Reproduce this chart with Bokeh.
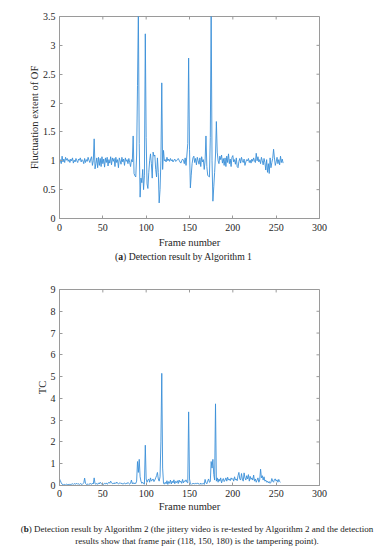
from bokeh.plotting import figure
from bokeh.models import Range1d, Label, Div, FixedTicker, CustomJSTickFormatter
from bokeh.layouts import column
from bokeh.embed import file_html
from bokeh.resources import INLINE

# ---- data: panel (a) fluctuation extent of optical flow, frames 0..258 ----
of_values = [
    0.96, 1.02, 0.95, 1.08, 0.98, 1.03, 0.97, 1.06, 1.01, 1.04,
    0.99, 1.02, 0.97, 1.03, 1.00, 1.05, 0.96, 1.01, 0.98, 1.04,
    1.00, 0.97, 1.03, 1.01, 1.05, 0.98, 1.02, 1.00, 0.95, 1.04,
    0.97, 1.02, 0.99, 1.06, 1.01, 0.97, 1.03, 1.07, 0.92, 1.00,
    1.38, 0.86, 0.95, 1.05, 0.88, 1.06, 0.92, 1.04, 0.90, 1.07,
    0.95, 1.03, 0.89, 1.05, 0.97, 1.06, 0.91, 1.02, 0.96, 1.07,
    0.93, 1.05, 0.99, 1.04, 0.90, 1.06, 0.97, 1.02, 0.88, 1.05,
    1.00, 0.94, 1.06, 0.98, 1.03, 0.92, 1.05, 0.99, 1.02, 0.95,
    1.04, 0.97, 0.90, 1.02, 0.98, 1.43, 0.78, 0.74, 0.72, 1.10,
    2.30, 3.60, 1.30, 0.37, 0.70, 0.62, 0.85, 0.50, 0.75, 3.20,
    1.40, 0.60, 0.52, 0.80, 1.00, 1.12, 0.95, 0.70, 1.15, 1.08,
    1.10, 0.85, 0.72, 1.05, 0.80, 0.27, 0.50, 1.00, 2.35, 0.85,
    1.18, 1.00, 1.02, 0.98, 1.06, 1.00, 1.03, 0.99, 1.04, 1.00,
    1.02, 0.98, 1.01, 1.03, 0.99, 1.00, 1.02, 1.04, 1.01, 0.98,
    0.96, 1.00, 1.03, 1.01, 0.95, 1.05, 0.92, 1.10, 1.30, 2.78,
    1.20, 0.53, 0.75, 0.95, 1.05, 1.08, 0.97, 1.04, 0.93, 1.06,
    1.00, 0.94, 1.05, 0.90, 1.07, 0.98, 1.02, 0.85, 1.00, 1.43,
    0.90, 0.75, 0.73, 0.72, 1.40, 3.60, 1.00, 0.30, 0.55, 0.80,
    1.10, 1.68, 1.15, 1.00, 0.95, 1.08, 1.02, 1.10, 0.96, 1.04,
    0.92, 1.05, 0.90, 1.08, 0.97, 1.12, 0.95, 1.03, 0.90, 1.06,
    1.09, 0.98, 1.02, 0.94, 1.05, 0.90, 0.88, 0.99, 1.04, 0.96,
    1.06, 1.00, 0.97, 1.03, 0.92, 0.98, 1.02, 1.00, 1.04, 0.97,
    1.01, 0.96, 1.03, 0.99, 1.05, 1.00, 0.97, 1.13, 1.00, 1.07,
    0.98, 1.02, 0.95, 1.06, 1.00, 0.93, 1.04, 0.97, 0.84, 1.02,
    0.80, 0.95, 0.78, 1.05, 0.88, 0.97, 1.04, 1.20, 1.05, 0.92,
    0.98, 1.06, 0.95, 1.02, 0.93, 1.08, 0.97, 1.03, 0.96,
]
of_frames = list(range(len(of_values)))

# ---- data: panel (b) TC values, frames 0..255 ----
tc_values = [
    3000, 2200, 1200, 600, 400, 300, 500, 300, 600, 400,
    500, 300, 700, 400, 600, 800, 500, 900, 600, 700,
    1000, 600, 800, 500, 900, 700, 400, 800, 1200, 3400,
    900, 500, 700, 400, 800, 600, 900, 500, 1100, 700,
    3500, 800, 600, 900, 500, 1200, 700, 1500, 900, 600,
    800, 500, 1000, 700, 1200, 600, 900, 1500, 1000, 2000,
    1400, 800, 1100, 700, 1300, 900, 1600, 1100, 700, 1000,
    1300, 800, 1100, 600, 900, 1200, 700, 1000, 800, 1400,
    900, 600, 1100, 2500, 800, 1300, 700, 1200, 900, 2000,
    11000, 6000, 12000, 4000, 2000, 1000, 1500, 800, 600, 18500,
    3000, 1500, 2500, 3000, 1500, 3500, 2000, 2500, 3000, 1800,
    2500, 3500, 4500, 6000, 3000, 2000, 4000, 20000, 51500, 8000,
    1000, 600, 1500, 800, 2200, 500, 1800, 1000, 2500, 700,
    2000, 1200, 2600, 800, 1900, 1300, 2200, 900, 2500, 1500,
    2000, 1000, 2800, 1200, 2100, 1800, 2600, 1500, 1200, 33800,
    3000, 800, 500, 900, 700, 1100, 600, 1000, 800, 1200,
    700, 900, 500, 1100, 600, 800, 1000, 500, 2800, 1200,
    800, 2000, 3000, 1500, 1800, 11000, 8000, 12000, 5000, 2500,
    37500, 2000, 3500, 1500, 3000, 2000, 3500, 1200, 2500, 3200,
    1800, 2500, 3500, 2000, 3800, 2500, 3000, 2200, 3500, 2800,
    3200, 2000, 4000, 2500, 3000, 2200, 4500, 6000, 3000, 2500,
    5500, 3000, 2000, 5800, 3500, 2500, 4500, 3000, 5000, 2000,
    4200, 2800, 3500, 2500, 4800, 2000, 3000, 1500, 2500, 3500,
    1500, 2500, 7500, 3500, 4500, 2500, 4000, 2000, 2500, 1500,
    2000, 1200, 1800, 1000, 1500, 3200, 2000, 1500, 2800, 3000,
    2000, 2600, 1500, 2800, 1800, 1500,
]
tc_frames = list(range(len(tc_values)))

x_ticks = [0, 50, 100, 150, 200, 250, 300]
of_ticks = [0, 0.5, 1, 1.5, 2, 2.5, 3, 3.5]
tc_ticks = [0, 10000, 20000, 30000, 40000, 50000, 60000, 70000, 80000, 90000]

SERIF = "Liberation Serif"
AXIS_GRAY = "#9a9a9a"
TEXT = "#262626"
LINE = "#3a8fd8"
TICK_PX = 3


def style_axis(ax, ticks, fmt=None):
    ax.ticker = FixedTicker(ticks=ticks)
    ax.axis_line_color = AXIS_GRAY
    ax.major_tick_line_color = AXIS_GRAY
    ax.major_tick_in = TICK_PX
    ax.major_tick_out = 0
    ax.minor_tick_in = 0
    ax.minor_tick_out = 0
    ax.minor_tick_line_color = None
    ax.major_label_text_font = SERIF
    ax.major_label_text_color = TEXT
    ax.major_label_text_font_size = "10px"
    ax.axis_label_text_font = SERIF
    ax.axis_label_text_color = TEXT
    ax.axis_label_text_font_style = "normal"
    ax.axis_label_text_font_size = "10.5px"
    if fmt is not None:
        ax.formatter = fmt


def make_fig(height, left, right, top, bottom):
    p = figure(width=385, height=height, output_backend="svg", toolbar_location=None,
               min_border_left=left, min_border_right=right,
               min_border_top=top, min_border_bottom=bottom)
    p.xgrid.visible = False
    p.ygrid.visible = False
    p.outline_line_color = AXIS_GRAY
    p.background_fill_color = "white"
    p.border_fill_color = "white"
    return p


def box_ticks(p, xt, yt, xmax, ymax, frame_w, frame_h):
    # inward tick marks on the top and right edges of the box (MATLAB style)
    dy = TICK_PX * ymax / frame_h
    dx = TICK_PX * xmax / frame_w
    p.segment(x0=xt, y0=[ymax] * len(xt), x1=xt, y1=[ymax - dy] * len(xt),
              line_color=AXIS_GRAY, line_width=1)
    p.segment(x0=[xmax] * len(yt), y0=yt, x1=[xmax - dx] * len(yt), y1=yt,
              line_color=AXIS_GRAY, line_width=1)


# ---------- panel (a) ----------
p1 = make_fig(250, 59, 66, 16, 31)
p1.x_range = Range1d(0, 300)
p1.y_range = Range1d(0, 3.5)
p1.line(of_frames, of_values, line_color=LINE, line_width=0.9)
box_ticks(p1, x_ticks, of_ticks, 300, 3.5, 260, 203)

style_axis(p1.xaxis[0], x_ticks)
style_axis(p1.yaxis[0], of_ticks, fmt=CustomJSTickFormatter(code="return tick.toString();"))
p1.xaxis[0].axis_label = "Frame number"
p1.yaxis[0].axis_label = "Fluctuation extent of OF"
p1.xaxis[0].major_label_standoff = 5
p1.xaxis[0].axis_label_standoff = 3
p1.yaxis[0].major_label_standoff = 4
p1.yaxis[0].axis_label_standoff = 0

cap_common = {"font-family": SERIF, "color": "#222222", "text-align": "center",
              "line-height": "12px", "white-space": "nowrap"}
cap_a = Div(text="(<b>a</b>) Detection result by Algorithm 1", width=367, height=14,
            margin=(0, 0, 0, 0),
            styles=dict(cap_common, **{"font-size": "9.7px", "padding-top": "1px"}))

# ---------- panel (b) ----------
p2 = make_fig(250, 58, 66, 25, 26)
p2.x_range = Range1d(0, 300)
p2.y_range = Range1d(0, 90000)
p2.line(tc_frames, tc_values, line_color=LINE, line_width=0.9)
box_ticks(p2, x_ticks, tc_ticks, 300, 90000, 261, 199)

style_axis(p2.xaxis[0], x_ticks)
style_axis(p2.yaxis[0], tc_ticks, fmt=CustomJSTickFormatter(code="return (tick/10000).toString();"))
p2.xaxis[0].axis_label = "Frame number"
p2.yaxis[0].axis_label = "TC"
p2.xaxis[0].major_label_standoff = 4
p2.xaxis[0].axis_label_standoff = 1
p2.yaxis[0].major_label_standoff = 4
p2.yaxis[0].axis_label_standoff = 0
p2.add_layout(Label(x=0, y=90000, text="×10⁴", text_font=SERIF, text_font_size="8px",
                    text_color=TEXT, y_offset=1, text_baseline="bottom", text_align="left"))

cap_b = Div(text="<div style=\"padding-left:9px\">(<b>b</b>) Detection result by Algorithm 2 "
                 "(the jittery video is re-tested by Algorithm 2 and the detection"
                 "<br>results show that frame pair (118, 150, 180) is the tampering point).</div>",
            width=385, height=36, margin=(0, 0, 0, 0),
            styles=dict(cap_common, **{"font-size": "9.0px", "padding-top": "9px"}))

layout = column(p1, cap_a, p2, cap_b, spacing=0)
open("out.html", "w").write(file_html(layout, INLINE))
